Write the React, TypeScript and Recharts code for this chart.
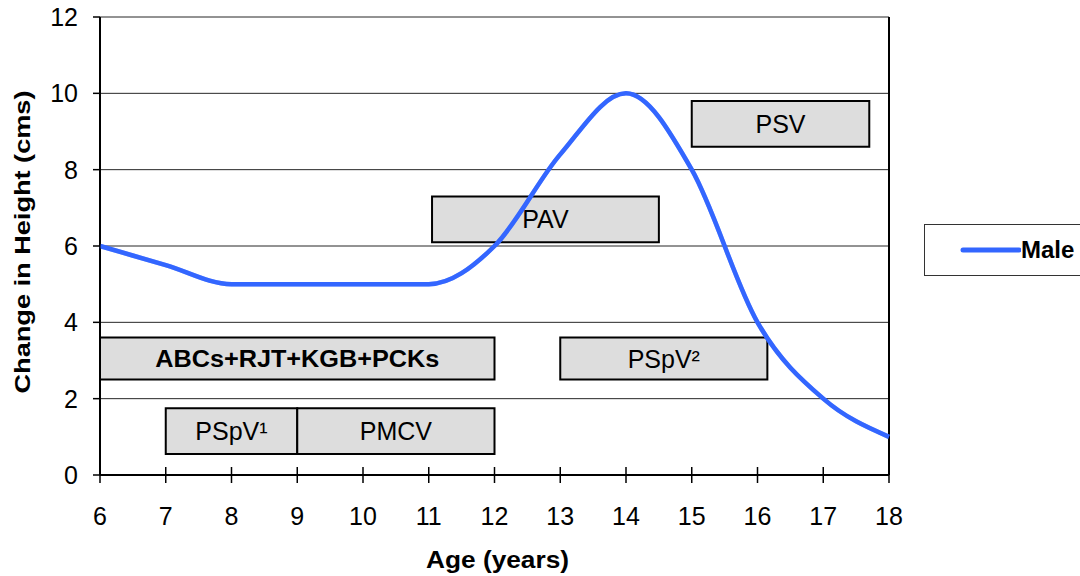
import React from 'react';
import { LineChart, Line, XAxis, YAxis, CartesianGrid, ReferenceArea, ReferenceLine } from 'recharts';

const ages = [6, 7, 8, 9, 10, 11, 12, 13, 14, 15, 16, 17, 18];
const maleValues = [6, 5.5, 5, 5, 5, 5, 6, 8.4, 10, 8, 4, 2, 1];
const xTicks = [6, 7, 8, 9, 10, 11, 12, 13, 14, 15, 16, 17, 18];
const yTicks = [0, 2, 4, 6, 8, 10, 12];
const seriesName = 'Male';

const boxLabels = ['ABCs+RJT+KGB+PCKs', 'PSpV\u00B9', 'PMCV', 'PSpV\u00B2', 'PSV', 'PAV'];
const boxStartAge = [6, 7, 9, 13, 15, 11.05];
const boxEndAge = [12, 9, 12, 16.15, 17.7, 14.5];
const boxLow = [2.5, 0.55, 0.55, 2.5, 8.6, 6.1];
const boxHigh = [3.6, 1.75, 1.75, 3.6, 9.8, 7.3];
const boxBold = [true, false, false, false, false, false];

const data = ages.map((a, i) => ({ age: a, [seriesName]: maleValues[i] }));

const FONT = '"Liberation Sans", Arial, sans-serif';

const XTick = (props: any) => {
  const { x, y, payload } = props;
  return (
    <g>
      <line x1={x} x2={x} y1={y - 26} y2={y - 18} stroke="#000" strokeWidth={1.5} />
      <text x={x} y={y} dy={32} textAnchor="middle" fontSize={25} fill="#000" fontFamily={FONT}>
        {payload.value}
      </text>
    </g>
  );
};

const makeBoxLabel = (text: string, bold: boolean) => (p: any) => {
  const vb = p.viewBox || { x: 0, y: 0, width: 0, height: 0 };
  const cx = vb.x + vb.width / 2;
  const cy = vb.y + vb.height / 2;
  return (
    <text
      x={cx}
      y={cy}
      dy={bold ? 8 : 9}
      textAnchor="middle"
      fontSize={bold ? 23 : 25}
      fontWeight={bold ? 'bold' : 'normal'}
      fill="#000"
      fontFamily={FONT}
      {...(bold ? { textLength: 284, lengthAdjust: 'spacingAndGlyphs' } : {})}
    >
      {text}
    </text>
  );
};

export default function App() {
  const extra: any = { zIndex: 2000 };
  return (
    <div style={{ position: 'absolute', left: 0, top: 0, width: 1080, height: 576, overflow: 'hidden', background: '#fff' }}>
      <LineChart
        width={1080}
        height={576}
        data={data}
        margin={{ top: 17, right: 191, left: 0, bottom: 0 }}
        style={{ fontFamily: FONT }}
      >
        <CartesianGrid horizontal vertical={false} stroke="#000" strokeWidth={1} strokeOpacity={0.85} />
        <XAxis
          dataKey="age"
          type="number"
          domain={[6, 18]}
          ticks={xTicks}
          interval={0}
          height={101}
          axisLine={{ stroke: '#000', strokeWidth: 2 }}
          tickLine={{ stroke: '#000', strokeWidth: 1.5 }}
          tickSize={8}
          tickMargin={10}
          tick={<XTick />}
          label={{
            content: (p: any) => {
              const vb = p.viewBox || { x: 100, y: 475, width: 789, height: 101 };
              const cx = vb.x + vb.width / 2 + 3;
              return (
                <text
                  x={cx}
                  y={568}
                  textAnchor="middle"
                  fontSize={23}
                  fontWeight="bold"
                  fill="#000"
                  fontFamily={FONT}
                  textLength={143}
                  lengthAdjust="spacingAndGlyphs"
                >
                  Age (years)
                </text>
              );
            },
          }}
        />
        <YAxis
          type="number"
          domain={[0, 12]}
          ticks={yTicks}
          interval={0}
          width={100}
          axisLine={{ stroke: '#000', strokeWidth: 2 }}
          tickLine={{ stroke: '#000', strokeWidth: 1.5 }}
          tickSize={7}
          tickMargin={15}
          tick={{ fontSize: 25, fill: '#000' }}
          label={{
            content: (p: any) => {
              const vb = p.viewBox || { x: 0, y: 17, width: 100, height: 458 };
              const cx = 22;
              const cy = vb.y + vb.height / 2 - 4;
              return (
                <text
                  x={cx}
                  y={cy}
                  transform={`rotate(-90 ${cx} ${cy})`}
                  textAnchor="middle"
                  dy={8}
                  fontSize={22}
                  fontWeight="bold"
                  fill="#000"
                  fontFamily={FONT}
                  textLength={303}
                  lengthAdjust="spacingAndGlyphs"
                >
                  Change in Height (cms)
                </text>
              );
            },
          }}
        />
        <ReferenceLine x={18} stroke="#000" strokeWidth={2} />
        <Line
          type="monotone"
          dataKey={seriesName}
          stroke="#3366FF"
          strokeWidth={4.5}
          dot={false}
          activeDot={false}
          isAnimationActive={false}
        />
        {boxLabels.map((lab, i) => (
          <ReferenceArea
            key={lab}
            x1={boxStartAge[i]}
            x2={boxEndAge[i]}
            y1={boxLow[i]}
            y2={boxHigh[i]}
            fill="#DDDDDD"
            fillOpacity={1}
            stroke="#000"
            strokeWidth={2}
            strokeOpacity={1}
            ifOverflow="visible"
            label={{ content: makeBoxLabel(lab, boxBold[i]) }}
          />
        ))}
        <Line
          type="monotone"
          dataKey={seriesName}
          stroke="#3366FF"
          strokeOpacity={0.45}
          strokeWidth={4.5}
          dot={false}
          activeDot={false}
          legendType="none"
          isAnimationActive={false}
          {...extra}
        />
      </LineChart>
      <div
        style={{
          position: 'absolute',
          left: 924,
          top: 224,
          width: 170,
          height: 52,
          boxSizing: 'border-box',
          border: '1.5px solid #333',
          display: 'flex',
          alignItems: 'center',
          background: '#fff',
        }}
      >
        <svg width={96} height={20} style={{ display: 'block' }}>
          <line x1={38} x2={94} y1={10} y2={10} stroke="#3366FF" strokeWidth={5} strokeLinecap="round" />
        </svg>
        <span style={{ fontFamily: FONT, fontWeight: 'bold', fontSize: 24, color: '#000' }}>{seriesName}</span>
      </div>
    </div>
  );
}
